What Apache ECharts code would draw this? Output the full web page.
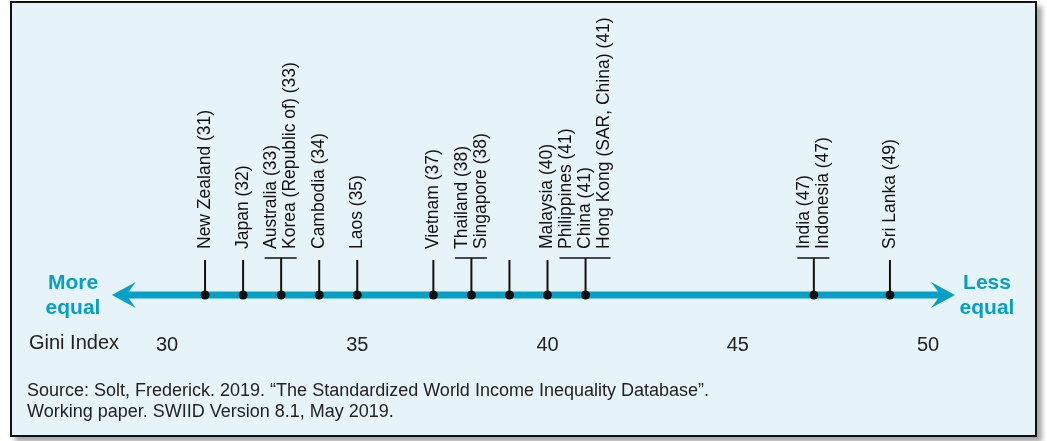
<!DOCTYPE html>
<html>
<head>
<meta charset="utf-8">
<script src="https://cdn.jsdelivr.net/npm/echarts@6/dist/echarts.min.js"></script>
<style>
  html, body { margin: 0; padding: 0; background: #fff; }
  #frame {
    position: absolute; left: 10px; top: 1px; width: 1027px; height: 436px;
    box-sizing: border-box; border: 2px solid #111; background: #e6f4fa;
    box-shadow: 5px 5px 5px rgba(0, 0, 0, 0.35);
  }
  #chart { position: absolute; left: 0; top: 0; width: 1047px; height: 441px; }
</style>
</head>
<body>
<div id="frame"></div>
<div id="chart"></div>
<script>
// countries and their Gini index (the one at 39 carries no label in the source)
const countries = ['New Zealand', 'Japan', 'Australia', 'Korea (Republic of)', 'Cambodia', 'Laos',
  'Vietnam', 'Thailand', 'Singapore', '', 'Malaysia', 'Philippines', 'China',
  'Hong Kong (SAR, China)', 'India', 'Indonesia', 'Sri Lanka']
const gini = [31, 32, 33, 33, 34, 35, 37, 38, 38, 39, 40, 41, 41, 41, 47, 47, 49]
const axisMin = 30
const axisMax = 50
const tickStep = 5
const arrowEnds = [28.55, 50.71]
const sourceLines = [
  'Source: Solt, Frederick. 2019. \u201cThe Standardized World Income Inequality Database\u201d.',
  'Working paper. SWIID Version 8.1, May 2019.'
]

const FONT = '"Liberation Sans", Arial, Helvetica, sans-serif'
const BLUE = '#06a0c6'
const INK = '#111'

// group the countries that share one value
let groups = []
gini.forEach((v, i) => {
  let g = groups.find(x => x.value === v)
  if (!g) {
    g = { value: v, labels: [] }
    groups.push(g)
  }
  if (countries[i]) g.labels.push(countries[i] + ' (' + v + ')')
})

function renderArrow (params, api) {
  const p0 = api.coord([api.value(0), 0])
  const p1 = api.coord([api.value(1), 0])
  const y = p0[1]
  const head = (x, dir) => ({
    type: 'polygon',
    shape: {
      points: [[x, y], [x + dir * 24, y - 13], [x + dir * 17, y - 3.5],
        [x + dir * 17, y + 3.5], [x + dir * 24, y + 13]]
    },
    style: { fill: BLUE }
  })
  return {
    type: 'group',
    children: [
      { type: 'line', shape: { x1: p0[0] + 16, y1: y, x2: p1[0] - 16, y2: y }, style: { stroke: BLUE, lineWidth: 7 } },
      head(p0[0], 1),
      head(p1[0], -1)
    ]
  }
}

function renderPoint (params, api) {
  const g = groups[api.value(1)]
  const [cx, cy] = api.coord([api.value(0), 0])
  const n = g.labels.length
  const gap = 19
  const barY = 258
  const children = []
  children.push({
    type: 'line',
    shape: { x1: cx, y1: n > 1 ? barY : 260, x2: cx, y2: cy },
    style: { stroke: INK, lineWidth: 2 }
  })
  if (n > 1) {
    const first = cx - (n - 1) / 2 * gap
    const last = cx + (n - 1) / 2 * gap
    children.push({
      type: 'line',
      shape: { x1: first - 7, y1: barY, x2: last + 6, y2: barY },
      style: { stroke: INK, lineWidth: 1.5 }
    })
  }
  g.labels.forEach((txt, i) => {
    children.push({
      type: 'text',
      x: cx + (i - (n - 1) / 2) * gap,
      y: 249,
      rotation: Math.PI / 2,
      style: {
        text: txt, x: 0, y: 0, align: 'left', verticalAlign: 'middle',
        fill: INK, font: '17.5px ' + FONT
      }
    })
  })
  children.push({
    type: 'circle',
    shape: { cx: cx, cy: cy, r: 4.5 },
    style: { fill: INK }
  })
  return { type: 'group', children: children }
}

const chart = echarts.init(document.getElementById('chart'))
chart.setOption({
  backgroundColor: 'transparent',
  animation: false,
  grid: { left: 167, right: 119, top: 240, bottom: 146 },
  xAxis: {
    type: 'value',
    min: axisMin,
    max: axisMax,
    interval: tickStep,
    axisLine: { show: false },
    axisTick: { show: false },
    splitLine: { show: false },
    axisLabel: { margin: 40, color: '#222', fontSize: 20, fontFamily: FONT }
  },
  yAxis: { type: 'value', min: 0, max: 1, show: false },
  graphic: [
    { type: 'text', left: 29, top: 333, style: { text: 'Gini Index', fill: '#222', font: '20px ' + FONT } },
    {
      type: 'text', left: 27, top: 381,
      style: { text: sourceLines.join('\n'), fill: '#222', font: '18px ' + FONT, lineHeight: 21 }
    },
    {
      type: 'text', x: 73, y: 296,
      style: { text: 'More\nequal', fill: BLUE, font: 'bold 21px ' + FONT, align: 'center', verticalAlign: 'middle', lineHeight: 25 }
    },
    {
      type: 'text', x: 987, y: 296,
      style: { text: 'Less\nequal', fill: BLUE, font: 'bold 21px ' + FONT, align: 'center', verticalAlign: 'middle', lineHeight: 25 }
    }
  ],
  series: [
    {
      type: 'custom',
      renderItem: renderArrow,
      data: [arrowEnds],
      silent: true,
      z: 1
    },
    {
      type: 'custom',
      renderItem: renderPoint,
      data: groups.map((g, i) => [g.value, i]),
      silent: true,
      z: 2
    }
  ]
})
</script>
</body>
</html>
